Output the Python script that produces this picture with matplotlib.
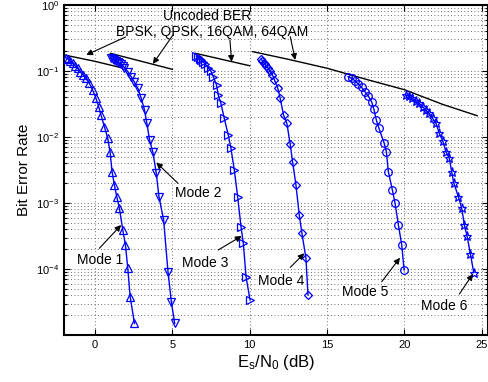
import matplotlib
matplotlib.use('Agg')
import matplotlib.pyplot as plt
import matplotlib.ticker as mticker

plt.rcParams.update({
    'font.family': ['Liberation Sans', 'DejaVu Sans'],
    'mathtext.fontset': 'custom',
    'mathtext.rm': 'Liberation Sans',
    'mathtext.it': 'Liberation Sans:italic',
    'mathtext.bf': 'Liberation Sans:bold',
})

# ------------------------------------------------------------
# Datos (Es/N0 en dB, BER)
# ------------------------------------------------------------
snr_m1 = [-1.885, -1.734, -1.604, -1.453, -1.301, -1.128, -0.955, -0.76, -0.586, -0.37,
          -0.154, 0.063, 0.236, 0.388, 0.604, 0.82, 0.972, 1.102, 1.253, 1.405,
          1.578, 1.794, 1.968, 2.119, 2.271, 2.552]
ber_m1 = [0.159, 0.150, 0.142, 0.131, 0.121, 0.110, 0.0977, 0.0869, 0.0774, 0.0650,
          0.0515, 0.0385, 0.0288, 0.0215, 0.0144, 0.00955, 0.0060, 0.00299, 0.00188, 0.00125,
          8.3e-4, 3.9e-4, 2.31e-4, 1.02e-4, 3.81e-5, 1.50e-5]

snr_m2 = [1.037, 1.145, 1.253, 1.362, 1.47, 1.578, 1.686, 1.794, 1.903, 2.119,
          2.336, 2.552, 2.768, 2.985, 3.201, 3.353, 3.526, 3.742, 3.959, 4.132,
          4.435, 4.716, 4.933, 5.149]
ber_m2 = [0.156, 0.152, 0.147, 0.142, 0.135, 0.131, 0.126, 0.119, 0.112, 0.0977,
          0.082, 0.0673, 0.0546, 0.0385, 0.0256, 0.0161, 0.0090, 0.00586, 0.00282, 0.00125,
          5.52e-4, 9.12e-5, 3.2e-5, 1.5e-5]

snr_m3 = [6.556, 6.664, 6.773, 6.881, 6.989, 7.141, 7.314, 7.487, 7.638, 7.855,
          7.963, 8.136, 8.353, 8.612, 8.786, 9.002, 9.219, 9.435, 9.586, 9.76, 10.02]
ber_m3 = [0.169, 0.161, 0.152, 0.145, 0.138, 0.126, 0.112, 0.100, 0.082, 0.0614,
          0.0433, 0.0324, 0.0192, 0.0107, 0.00673, 0.00316, 0.00125, 4.38e-4, 2.45e-4, 7.66e-5, 3.39e-5]

snr_m4 = [10.734, 10.82, 10.907, 10.994, 11.08, 11.167, 11.318, 11.47, 11.6, 11.816,
          11.968, 12.184, 12.4, 12.617, 12.768, 12.985, 13.201, 13.374, 13.634, 13.764]
ber_m4 = [0.152, 0.142, 0.134, 0.126, 0.119, 0.112, 0.100, 0.0869, 0.0731, 0.0546,
          0.0385, 0.0215, 0.0161, 0.00774, 0.00423, 0.00188, 6.58e-4, 3.47e-4, 1.45e-4, 4.04e-5]

snr_m5 = [16.361, 16.578, 16.794, 17.011, 17.227, 17.443, 17.66, 17.876, 18.028, 18.18,
          18.353, 18.677, 18.829, 18.959, 19.219, 19.392, 19.608, 19.825, 19.976]
ber_m5 = [0.082, 0.0774, 0.0714, 0.0635, 0.0566, 0.0486, 0.0418, 0.0343, 0.0262, 0.0181,
          0.0135, 0.0082, 0.0060, 0.00299, 0.00157, 9.89e-4, 4.64e-4, 2.31e-4, 9.66e-5]

snr_m6 = [20.084, 20.3, 20.518, 20.734, 20.95, 21.167, 21.383, 21.6, 21.816, 22.032,
          22.249, 22.465, 22.682, 22.898, 23.05, 23.18, 23.482, 23.699, 23.872, 24.045,
          24.262, 24.478]
ber_m6 = [0.0433, 0.0418, 0.0385, 0.0355, 0.0324, 0.0288, 0.0256, 0.0229, 0.0192, 0.0161,
          0.0114, 0.0088, 0.0060, 0.00475, 0.00299, 0.00203, 0.00125, 8.3e-4, 4.64e-4, 3.16e-4,
          1.69e-4, 8.8e-5]

# BER sin codificar
snr_bpsk = [-2.0, 0.0, 1.7]
ber_bpsk = [0.175, 0.14, 0.112]
snr_qpsk = [1.0, 3.0, 5.0]
ber_qpsk = [0.185, 0.14, 0.106]
snr_16qam = [6.5, 8.3, 10.0]
ber_16qam = [0.185, 0.148, 0.12]
snr_64qam = [10.2, 12.5, 15.0, 17.5, 20.0, 22.5, 24.7]
ber_64qam = [0.196, 0.150, 0.11, 0.075, 0.052, 0.031, 0.021]

modos = [
    (snr_m1, ber_m1, '^'),
    (snr_m2, ber_m2, 'v'),
    (snr_m3, ber_m3, '>'),
    (snr_m4, ber_m4, 'D'),
    (snr_m5, ber_m5, 'o'),
    (snr_m6, ber_m6, '*'),
]

fig = plt.figure(figsize=(4.89, 3.82), dpi=100)
ax = fig.add_axes([0.131, 0.123, 0.867, 0.864])

for s, b in [(snr_bpsk, ber_bpsk), (snr_qpsk, ber_qpsk),
             (snr_16qam, ber_16qam), (snr_64qam, ber_64qam)]:
    ax.plot(s, b, color='k', lw=1.0, zorder=3)

for s, b, m in modos:
    ms = 6.5 if m == '*' else (4.2 if m == 'D' else 5.5)
    ax.plot(s, b, color='b', lw=1.0, marker=m, ms=ms, mfc='none',
            mec='b', mew=0.9, zorder=4)

ax.set_yscale('log')
ax.set_xlim(-2, 25.4)
ax.set_ylim(1e-5, 1)
ax.set_xticks([0, 5, 10, 15, 20, 25])
ax.set_yticks([1e-4, 1e-3, 1e-2, 1e-1, 1e0])
ax.yaxis.set_minor_locator(mticker.LogLocator(base=10, subs=range(2, 10)))
ax.yaxis.set_minor_formatter(mticker.NullFormatter())

ax.grid(True, which='major', axis='x', linestyle=(0, (1, 3)), color='0.25', lw=0.6)
ax.grid(True, which='both', axis='y', linestyle=(0, (1, 3)), color='0.25', lw=0.6)
ax.set_axisbelow(True)

ax.tick_params(which='both', direction='in', top=True, right=True, labelsize=8, width=0.8)
ax.tick_params(which='major', length=4)
ax.tick_params(which='minor', length=2)
for sp in ax.spines.values():
    sp.set_linewidth(1.5)

ax.set_xlabel(r'$\mathrm{E_s/N_0}$ (dB)', fontsize=12, labelpad=2)
ax.set_ylabel('Bit Error Rate', fontsize=11, labelpad=4)

# Anotaciones
ax.text(7.23, 0.69, 'Uncoded BER', ha='center', va='center', fontsize=10)
ax.text(7.58, 0.394, 'BPSK, QPSK, 16QAM, 64QAM', ha='center', va='center', fontsize=10)

flecha = dict(arrowstyle='-|>', color='k', lw=0.8, mutation_scale=9, shrinkA=0, shrinkB=0)
for cabeza, cola in [((-0.565, 0.175), (1.97, 0.327)),
                     ((3.74, 0.128), (5.04, 0.351)),
                     ((8.83, 0.138), (8.72, 0.295)),
                     ((12.94, 0.147), (12.62, 0.331))]:
    ax.annotate('', xy=cabeza, xytext=cola, arrowprops=flecha)

etiquetas = [
    ('Mode 1', (0.33, 1.37e-4), (0.28, 2.06e-4), (1.69, 4.64e-4)),
    ('Mode 2', (6.66, 1.40e-3), (5.36, 1.99e-3), (3.96, 4.11e-3)),
    ('Mode 3', (7.13, 1.22e-4), (7.96, 1.94e-4), (9.48, 3.16e-4)),
    ('Mode 4', (12.06, 6.65e-5), (12.62, 1.06e-4), (13.53, 1.73e-4)),
    ('Mode 5', (17.45, 4.44e-5), (18.53, 6.42e-5), (19.71, 1.48e-4)),
    ('Mode 6', (22.54, 2.75e-5), (23.55, 4.18e-5), (24.42, 8.4e-5)),
]
for txt, pos, cola, cabeza in etiquetas:
    ax.text(pos[0], pos[1], txt, ha='center', va='center', fontsize=10, zorder=6,
            bbox=dict(facecolor='white', edgecolor='none', pad=0.5))
    ax.annotate('', xy=cabeza, xytext=cola, arrowprops=flecha, zorder=6)

fig.savefig('out.png', dpi=100, facecolor='white')
